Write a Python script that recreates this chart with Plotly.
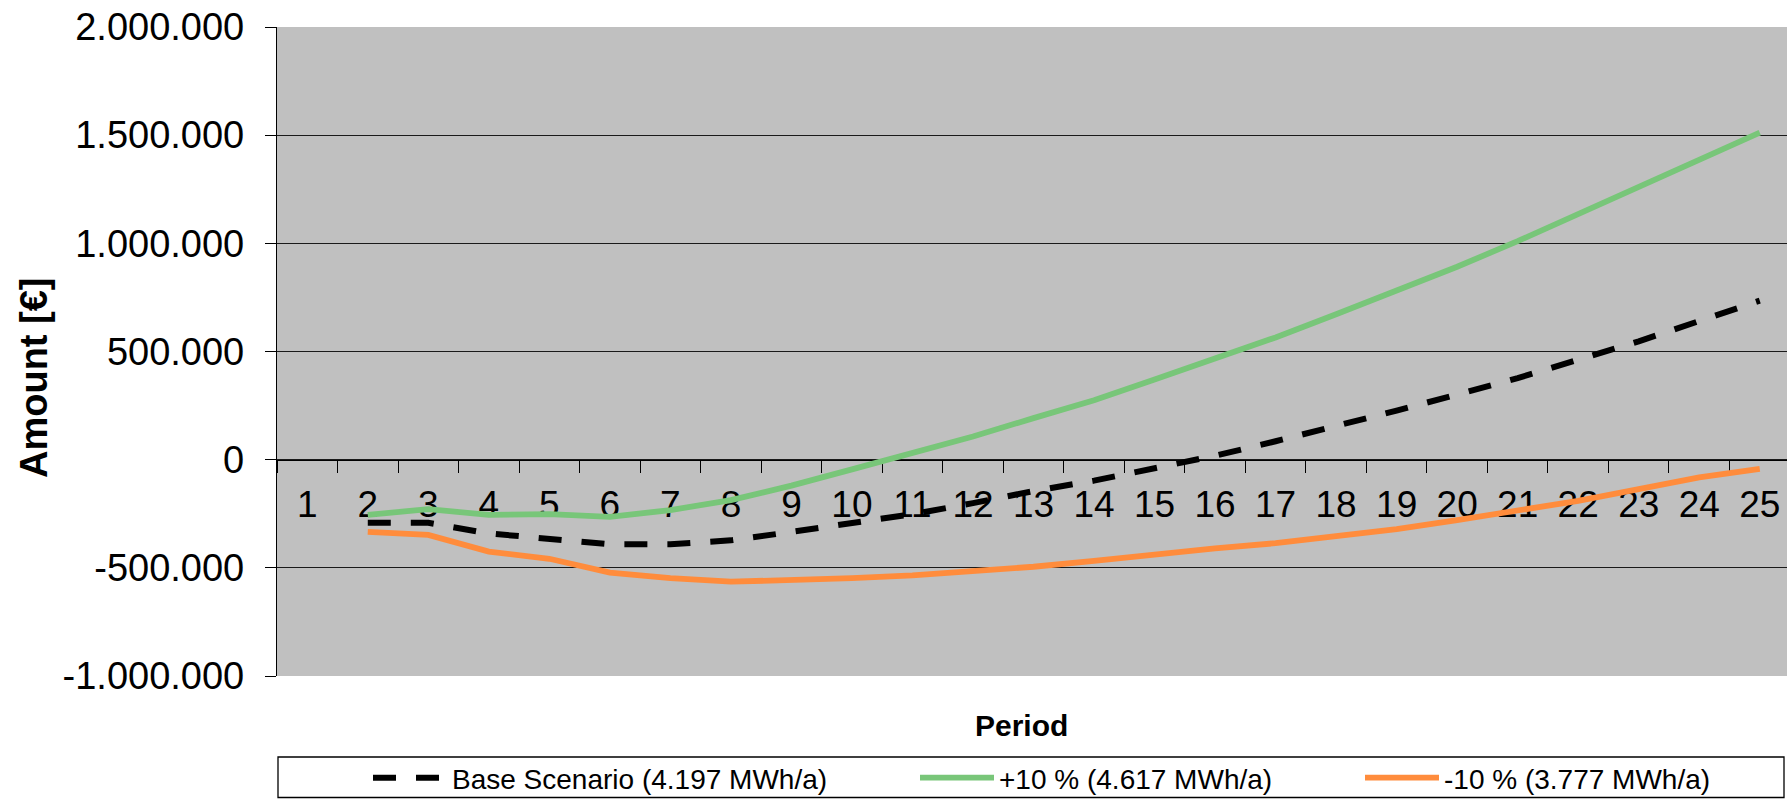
import plotly.graph_objects as go

periods = [str(i) for i in range(1, 26)]

base = [None, -292000, -292000, -341000, -365000, -391000, -391000, -373000, -334000,
        -295000, -252000, -201000, -145000, -97000, -43000, 18000, 85000, 154000,
        227000, 301000, 377000, 462000, 547000, 641000, 735000]
plus10 = [None, -255000, -229000, -255000, -252000, -264000, -233000, -187000, -120000,
          -45000, 30000, 107000, 192000, 275000, 370000, 465000, 565000, 672000,
          780000, 892000, 1010000, 1135000, 1258000, 1383000, 1512000]
minus10 = [None, -334000, -348000, -425000, -458000, -522000, -548000, -564000, -558000,
           -548000, -535000, -518000, -495000, -468000, -437000, -410000, -386000, -356000,
           -321000, -280000, -236000, -190000, -136000, -82000, -43000]

names = ["Base Scenario (4.197 MWh/a)", "+10 % (4.617 MWh/a)", "-10 % (3.777 MWh/a)"]

y_tickvals = [-1000000, -500000, 0, 500000, 1000000, 1500000, 2000000]
y_ticktext = ["-1.000.000", "-500.000", "0", "500.000", "1.000.000", "1.500.000", "2.000.000"]

FONT = "Arial, Liberation Sans, sans-serif"
W, H = 1787, 799
L, T, B = 277, 27, 123
PW, PH = W - L, H - T - B


def px_x(p):
    return (p - L) / PW


def px_y(p):
    return (H - B - p) / PH


fig = go.Figure()
fig.add_trace(go.Scatter(x=periods, y=base, mode="lines", name=names[0],
                         line=dict(color="black", width=6, dash="23px,20px"),
                         legend="legend"))
fig.add_trace(go.Scatter(x=periods, y=plus10, mode="lines", name=names[1],
                         line=dict(color="#78C679", width=5.8), legend="legend2"))
fig.add_trace(go.Scatter(x=periods, y=minus10, mode="lines", name=names[2],
                         line=dict(color="#FF8C3C", width=5.8), legend="legend3"))

legend_common = dict(xref="paper", yref="paper", xanchor="left", yanchor="middle",
                     bgcolor="rgba(0,0,0,0)", borderwidth=0,
                     font=dict(family=FONT, size=28, color="black"), itemwidth=74)

fig.update_layout(
    template="none",
    width=W, height=H, autosize=False,
    margin=dict(l=L, r=0, t=T, b=B, pad=0, autoexpand=False),
    paper_bgcolor="white", plot_bgcolor="#C0C0C0",
    font=dict(family=FONT, color="black"),
    showlegend=True,
    legend=dict(x=px_x(373 - 5), y=px_y(778), **legend_common),
    legend2=dict(x=px_x(920 - 5), y=px_y(778), **legend_common),
    legend3=dict(x=px_x(1365 - 5), y=px_y(778), **legend_common),
    xaxis=dict(type="category", categoryorder="array", categoryarray=periods,
               range=[-0.5, 24.45], anchor="free", position=1 / 3, automargin=False,
               showline=True, linecolor="black", linewidth=1.3,
               ticks="outside", ticklen=12, tickwidth=1.3, tickcolor="black",
               tickson="boundaries", showgrid=False, zeroline=False,
               tickfont=dict(family=FONT, size=37, color="black"),
               ticklabelstandoff=12, layer="below traces", fixedrange=True),
    yaxis=dict(range=[-1000000, 2000000], tickmode="array", tickvals=y_tickvals,
               ticktext=y_ticktext, showgrid=True, gridcolor="#1a1a1a", gridwidth=1.3,
               zeroline=False, showline=True, linecolor="black", linewidth=1.3,
               ticks="outside", ticklen=11, tickwidth=1.3, tickcolor="black",
               tickfont=dict(family=FONT, size=38, color="black"), automargin=False,
               ticklabelstandoff=13, fixedrange=True),
    shapes=[dict(type="rect", xref="paper", yref="paper",
                 x0=px_x(278), x1=px_x(1784), y0=px_y(757), y1=px_y(797.5),
                 line=dict(color="black", width=1.3), fillcolor="rgba(0,0,0,0)")],
    annotations=[
        dict(text="Period", xref="paper", yref="paper", x=px_x(1021), y=px_y(725),
             xanchor="center", yanchor="middle", showarrow=False,
             font=dict(family=FONT, size=30, color="black", weight="bold")),
        dict(text="Amount [€]", xref="paper", yref="paper", x=px_x(34), y=px_y(378),
             xanchor="center", yanchor="middle", showarrow=False, textangle=-90,
             font=dict(family=FONT, size=38, color="black", weight="bold")),
    ],
)

fig.write_html("out.html", config={"displayModeBar": False},
               post_script="document.body.style.margin='0';document.body.style.overflow='hidden';")
